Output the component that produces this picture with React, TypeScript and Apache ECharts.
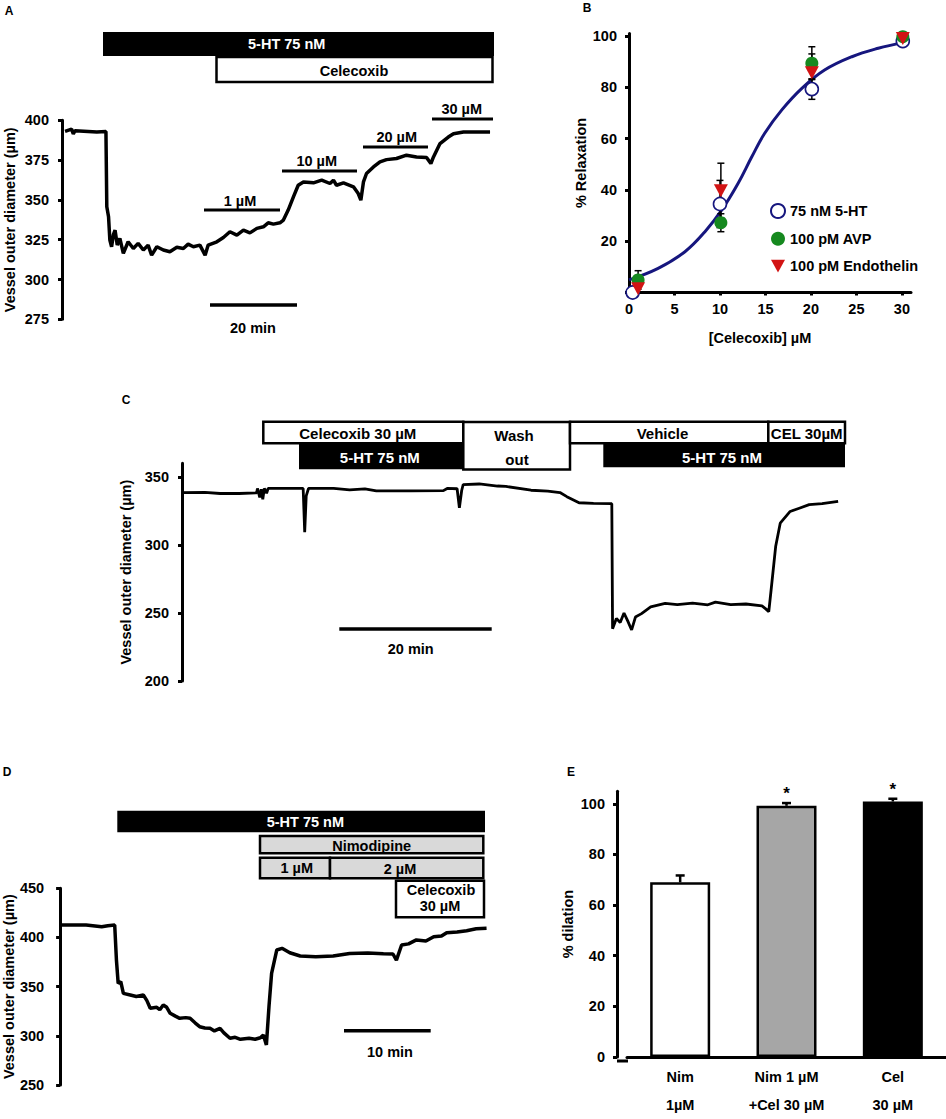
import React, { useEffect, useRef } from 'react';
import * as echarts from 'echarts';

const FONT = '"Liberation Sans", Arial, Helvetica, sans-serif';

// ---------- Panel A: diameter trace (time in min, diameter in µm)
const aTime = [0.7, 2.2, 2.6, 3.0, 8.0, 10.1, 10.3, 10.7, 11.0, 11.4, 11.8, 12.2, 12.7, 13.3, 14.1, 15.2, 16.4, 17.5, 18.7, 19.8, 20.6, 21.8, 23.3, 24.8, 26.4, 27.9, 29.0, 30.2, 31.7, 32.9, 33.6, 35.6, 37.1, 38.6, 40.2, 41.7, 43.2, 44.8, 46.3, 47.4, 48.6, 50.1, 50.9, 52.0, 53.2, 54.3, 55.5, 57.8, 59.7, 61.6, 62.4, 63.1, 64.7, 67.0, 68.1, 68.7, 69.3, 70.0, 71.6, 73.1, 74.6, 76.9, 79.2, 81.5, 83.8, 84.8, 85.4, 86.9, 88.8, 90.0, 92.3, 98.4];
const aDiam = [393.1, 394.5, 391.5, 393.5, 392.7, 393, 345.7, 339.4, 324.8, 320.6, 328, 331, 321.6, 325.8, 316.4, 323.7, 319.5, 322.7, 318.5, 321.6, 315.3, 320.6, 318.5, 317.4, 320.2, 319.5, 322.2, 320.6, 321.6, 315.3, 321.6, 323.7, 326.4, 330, 327.9, 331, 329.3, 332.1, 333.1, 335.6, 334.8, 335.6, 337.3, 343.6, 351.9, 359.2, 361.3, 360.7, 362.4, 360.3, 362.4, 359.2, 360.7, 358.2, 354, 349.8, 361.3, 366.6, 370.7, 373.9, 375.3, 376, 378.1, 377, 376.7, 372.8, 377, 385.4, 389.5, 391.6, 392.7, 392.7];
const aTicks = [275, 300, 325, 350, 375, 400];

// ---------- Panel B: concentration-response
const bConc5HT = [0.4, 10, 20.1, 30.1];
const b5HT = [0, 34.5, 79.3, 98];
const b5HTErr = [0, 9.2, 4, 0];
const bConcAVP = [1.0, 10.1, 20.1, 30.1];
const bAVP = [4.9, 27.2, 89.4, 99.7];
const bAVPErr = [3.6, 3.5, 6.4, 0];
const bConcET = [1.0, 10.1, 20.1, 30.1];
const bET = [1.5, 39.7, 85.7, 99];
const bETErr = [0, 10.7, 7.3, 0];
const bFitX = [0, 3.2, 6.15, 8.35, 10.2, 12.0, 13.5, 14.9, 16.8, 19.0, 21.5, 24.5, 27.4, 30.1];
const bFitY = [4.9, 9.4, 15.9, 23.7, 32.2, 42.6, 52.9, 62, 71.2, 79.6, 86.7, 91.9, 95.2, 97.4];
const bXTicks = [0, 5, 10, 15, 20, 25, 30];
const bYTicks = [20, 40, 60, 80, 100];
const bNames = ['75 nM 5-HT', '100 pM AVP', '100 pM Endothelin'];

// ---------- Panel C: diameter trace
const cTime = [0, 3, 5, 7.5, 9.8, 9.9, 10.2, 10.4, 10.6, 10.8, 11.1, 11.3, 14, 15.9, 16.1, 16.3, 16.6, 19.9, 22, 24, 25.5, 30, 34.3, 34.8, 36.1, 36.4, 36.7, 36.9, 39, 41.4, 42.5, 45.8, 48, 49.6, 50.5, 52.1, 54, 56.4, 56.5, 57.0, 57.5, 58.0, 58.5, 59.0, 59.5, 60.3, 61.5, 63.4, 65, 67, 69, 70, 72, 74, 76.1, 76.6, 77.0, 77.3, 77.9, 78.5, 79.8, 81.0, 82.3, 84, 86.1];
const cDiam = [338.5, 338.6, 337.8, 337.8, 338.3, 341.5, 335, 341, 333.5, 341.5, 338, 341.5, 341.6, 341.5, 309.3, 336, 341.5, 341.5, 340.5, 341.2, 339.8, 339.7, 339.9, 341.5, 341.3, 327.3, 340, 344.4, 344.8, 343.3, 343, 340.2, 339.5, 338.5, 335.5, 331, 330.6, 330.3, 238.4, 246, 243, 250, 244, 237.5, 247, 249.5, 254.4, 257, 256.2, 257.3, 256, 258, 256.2, 256.6, 255.2, 253, 251, 266.7, 298.8, 316, 324.6, 327, 329.6, 330.3, 332];
const cTicks = [200, 250, 300, 350];

// ---------- Panel D: diameter trace
const dTime = [0.2, 3, 4.8, 5.5, 6.3, 6.5, 6.7, 7.0, 7.3, 8.1, 8.8, 9.6, 10.0, 10.4, 11.15, 11.5, 11.9, 12.3, 12.7, 13.3, 13.8, 14.5, 15.0, 15.6, 16.1, 16.7, 17.3, 17.8, 18.45, 18.9, 19.6, 20.2, 20.8, 21.8, 22.5, 23.1, 23.45, 23.8, 24.1, 24.4, 25.0, 25.6, 26.5, 27.7, 29.5, 31.5, 33.4, 35.5, 37.3, 38.4, 38.8, 39.4, 40.2, 41.1, 42.2, 43.1, 44.0, 44.6, 45.8, 46.9, 48.0, 49.2];
const dDiam = [412.7, 412.7, 411, 412, 412.7, 377, 353.4, 355, 343.2, 341.5, 340, 341.5, 336, 328, 329, 326.5, 331.4, 329, 322.9, 320, 317.8, 318.5, 317.8, 313, 309.3, 308, 307.6, 305, 307.6, 303, 297.5, 298.5, 296.5, 297.5, 296.5, 298, 300.8, 290.7, 330, 363.6, 387.3, 389, 384.5, 381.2, 380.5, 381.2, 383.8, 384.2, 383.5, 383.2, 377, 392.4, 393.5, 397.5, 396.5, 400.8, 401.5, 404.9, 405.5, 406.9, 408.8, 409.3];
const dTicks = [250, 300, 350, 400, 450];

// ---------- Panel E: % dilation bars
const eCats = ['Nim\n1µM', 'Nim 1 µM\n+Cel 30 µM', 'Cel\n30 µM'];
const eVals = [69, 99.2, 100.9];
const eErr = [2.7, 1.1, 1.1];
const eStars = ['', '*', '*'];
const eColors = ['#ffffff', '#a6a6a6', '#000000'];
const eTicks = [0, 20, 40, 60, 80, 100];

const zip = (xs: number[], ys: number[]) => xs.map((x, i) => [x, ys[i]]);
const errData = (xs: number[], ys: number[], es: number[]) =>
  xs.map((x, i) => [x, ys[i] - es[i], ys[i] + es[i]]).filter((d, i) => es[i] > 0);

const lbl = { color: '#000', fontWeight: 'bold', fontSize: 14.5, fontFamily: FONT };

function yAxisCfg(gridIndex: number, min: number, max: number, ticks: number[], name: string, nameGap: number, labelMargin: number, extra: any = {}) {
  return {
    type: 'value', gridIndex, min, max,
    name, nameLocation: 'middle', nameGap,
    nameTextStyle: { ...lbl },
    axisLine: { show: true, lineStyle: { color: '#000', width: 3 } },
    axisTick: { show: true, length: 4, lineStyle: { color: '#000', width: 3 }, customValues: ticks },
    axisLabel: { ...lbl, margin: labelMargin, customValues: ticks },
    splitLine: { show: false },
    ...extra,
  };
}
function hiddenX(gridIndex: number, max: number) {
  return { type: 'value', gridIndex, min: 0, max, show: false, splitLine: { show: false } };
}

const rect = (x: number, y: number, w: number, h: number, fill: string, stroke?: string) => ({
  type: 'rect', shape: { x, y, width: w, height: h },
  style: { fill, stroke: stroke || null, lineWidth: stroke ? 2.5 : 0 }, z: 10,
});
const txt = (text: string, x: number, y: number, fill = '#000', size = 14.5) => ({
  type: 'text', x, y, z: 11,
  style: { text, fill, font: `bold ${size}px ${FONT}`, align: 'center', verticalAlign: 'middle' },
});
const ln = (x1: number, y1: number, x2: number, y2: number, w = 3) => ({
  type: 'line', shape: { x1, y1, x2, y2 }, style: { stroke: '#000', lineWidth: w }, z: 10,
});

const graphics = [
  // panel letters
  txt('A', 9, 11, '#000', 12), txt('B', 587, 8, '#000', 12), txt('C', 126, 400, '#000', 12),
  txt('D', 7, 772, '#000', 12), txt('E', 571, 772, '#000', 12),
  // A protocol bars
  rect(103, 32, 391, 24, '#000'), txt('5-HT 75 nM', 286.7, 44, '#fff'),
  rect(216.5, 57, 276, 25, '#fff', '#000'), txt('Celecoxib', 354, 70.5),
  ln(204, 210, 280, 210), txt('1 µM', 240, 200.5),
  ln(282, 171, 357, 171), txt('10 µM', 316.7, 161),
  ln(363, 147, 428, 147), txt('20 µM', 396.7, 136.5),
  ln(432, 119, 493, 119), txt('30 µM', 461.7, 109),
  ln(210, 305, 297, 305, 3.5), txt('20 min', 253, 328),
  // C protocol bars
  rect(299, 443.3, 164.3, 26, '#000'), txt('5-HT 75 nM', 379.8, 457.5, '#fff', 15),
  rect(603.3, 443.3, 241.7, 24, '#000'), txt('5-HT 75 nM', 722, 457.5, '#fff', 15),
  rect(263.3, 421.7, 200, 21.6, '#fff', '#000'), txt('Celecoxib 30 µM', 357.8, 433, '#000', 15),
  rect(463.3, 422, 106.7, 47.5, '#fff', '#000'), txt('Wash', 514, 435, '#000', 15), txt('out', 517, 459.5, '#000', 15),
  rect(570, 421.7, 198.3, 21.6, '#fff', '#000'), txt('Vehicle', 662.5, 433, '#000', 15),
  rect(768.3, 421.7, 76.7, 21.6, '#fff', '#000'), txt('CEL 30µM', 806.7, 433, '#000', 15),
  ln(339.3, 629, 491.7, 629, 3.5), txt('20 min', 410.7, 649),
  // D protocol bars
  rect(117.3, 810.7, 367.7, 21.6, '#000'), txt('5-HT 75 nM', 305.3, 822, '#fff'),
  rect(260, 836, 223.3, 17.3, '#d9d9d9', '#000'), txt('Nimodipine', 371.7, 845.5),
  rect(260, 857.7, 70, 20.6, '#d9d9d9', '#000'), txt('1 µM', 296.7, 867.5),
  rect(330, 857.7, 153.3, 20.6, '#d9d9d9', '#000'), txt('2 µM', 400, 869),
  rect(396, 880.7, 88, 36.6, '#fff', '#000'), txt('Celecoxib', 441, 890), txt('30 µM', 440, 905.5),
  ln(344, 1030.7, 430.7, 1030.7, 3.5), txt('10 min', 390, 1051.5),
  // E x-axis line continuation to the offset y-axis
  ln(617, 1061, 628, 1061, 3),
];

const errRender = (capHalf: number, lw: number) => (params: any, api: any) => {
  const x = api.value(0);
  const lo = api.coord([x, api.value(1)]);
  const hi = api.coord([x, api.value(2)]);
  const st = { stroke: '#000', lineWidth: lw };
  return {
    type: 'group',
    children: [
      { type: 'line', shape: { x1: lo[0], y1: lo[1], x2: hi[0], y2: hi[1] }, style: st },
      { type: 'line', shape: { x1: hi[0] - capHalf, y1: hi[1], x2: hi[0] + capHalf, y2: hi[1] }, style: st },
      { type: 'line', shape: { x1: lo[0] - capHalf, y1: lo[1], x2: lo[0] + capHalf, y2: lo[1] }, style: st },
    ],
  };
};

const eErrRender = (params: any, api: any) => {
  const i = params.dataIndex;
  const base = api.coord([api.value(0), api.value(1)]);
  const top = api.coord([api.value(0), api.value(2)]);
  const st = { stroke: '#000', lineWidth: 2.5 };
  const children: any[] = [
    { type: 'line', shape: { x1: base[0], y1: base[1], x2: top[0], y2: top[1] }, style: st },
    { type: 'line', shape: { x1: top[0] - 4.5, y1: top[1], x2: top[0] + 4.5, y2: top[1] }, style: st },
  ];
  if (eStars[i]) {
    children.push({
      type: 'text', x: top[0], y: top[1] - 1,
      style: { text: eStars[i], fill: '#000', font: `bold 17px ${FONT}`, align: 'center', verticalAlign: 'bottom' },
    });
  }
  return { type: 'group', children };
};

const navy = '#16167e';
const green = '#16891f';
const red = '#d21414';
const downTri = 'path://M0,0 L12,0 L6,11 Z';

const option: any = {
  animation: false,
  backgroundColor: '#fff',
  textStyle: { fontFamily: FONT },
  grid: [
    { left: 62, top: 120.3, width: 435, height: 199 },          // A
    { left: 629, top: 33.4, width: 282, height: 259.1 },         // B
    { left: 182, top: 463.3, width: 663, height: 217.7 },        // C
    { left: 60, top: 888.3, width: 433.5, height: 196.7 },       // D
    { left: 627, top: 791.15, width: 319, height: 269.85 },      // E
  ],
  xAxis: [
    hiddenX(0, 100),
    {
      type: 'value', gridIndex: 1, min: 0, max: 31,
      name: '[Celecoxib] µM', nameLocation: 'middle', nameGap: 38,
      nameTextStyle: { ...lbl, padding: [0, 20, 0, 0] },
      axisLine: { show: true, onZero: false, lineStyle: { color: '#000', width: 3 } },
      axisTick: { show: true, length: 3, lineStyle: { color: '#000', width: 3 }, customValues: bXTicks },
      axisLabel: { ...lbl, margin: 9, customValues: bXTicks },
      splitLine: { show: false },
    },
    hiddenX(2, 87),
    hiddenX(3, 50),
    {
      type: 'category', gridIndex: 4, data: eCats,
      axisLine: { show: true, lineStyle: { color: '#000', width: 3 } },
      axisTick: { show: false },
      axisLabel: { ...lbl, interval: 0, lineHeight: 28, margin: 6 },
    },
  ],
  yAxis: [
    yAxisCfg(0, 275, 400, aTicks, 'Vessel outer diameter (µm)', 45, 13),
    yAxisCfg(1, 0, 101, bYTicks, '% Relaxation', 32, 12, {
      axisTick: { show: true, length: 4, lineStyle: { color: '#000', width: 3 }, customValues: [0, 20, 40, 60, 80, 100] },
    }),
    yAxisCfg(2, 200, 360, cTicks, 'Vessel outer diameter (µm)', 46, 13),
    yAxisCfg(3, 250, 450, dTicks, 'Vessel outer diameter (µm)', 43, 16),
    yAxisCfg(4, 0, 105, eTicks, '% dilation', 42, 12, { offset: 10 }),
  ],
  legend: {
    show: true, orient: 'vertical', left: 770, top: 203, padding: 0,
    itemWidth: 14, itemHeight: 14, itemGap: 12.3,
    textStyle: { ...lbl },
    data: bNames,
  },
  series: [
    { type: 'line', xAxisIndex: 0, yAxisIndex: 0, data: zip(aTime, aDiam), showSymbol: false, lineStyle: { color: '#000', width: 3.5 }, z: 3 },
    // B fit curve
    {
      type: 'line', xAxisIndex: 1, yAxisIndex: 1, data: zip(bFitX, bFitY), showSymbol: false,
      smooth: 0.4, lineStyle: { color: navy, width: 3 }, z: 2,
    },
    // B error bars
    { type: 'custom', xAxisIndex: 1, yAxisIndex: 1, renderItem: errRender(3.5, 1.5), data: errData(bConc5HT, b5HT, b5HTErr), encode: { x: 0, y: [1, 2] }, z: 3 },
    { type: 'custom', xAxisIndex: 1, yAxisIndex: 1, renderItem: errRender(3.5, 1.5), data: errData(bConcAVP, bAVP, bAVPErr), encode: { x: 0, y: [1, 2] }, z: 3 },
    { type: 'custom', xAxisIndex: 1, yAxisIndex: 1, renderItem: errRender(3.5, 1.5), data: errData(bConcET, bET, bETErr), encode: { x: 0, y: [1, 2] }, z: 3 },
    {
      name: bNames[0], type: 'scatter', xAxisIndex: 1, yAxisIndex: 1, data: zip(bConc5HT, b5HT),
      symbol: 'circle', symbolSize: 13, itemStyle: { color: '#fff', borderColor: navy, borderWidth: 1.6, opacity: 1 }, z: 4,
    },
    {
      name: bNames[1], type: 'scatter', xAxisIndex: 1, yAxisIndex: 1, data: zip(bConcAVP, bAVP),
      symbol: 'circle', symbolSize: 13, itemStyle: { color: green, opacity: 1 }, z: 5,
    },
    {
      name: bNames[2], type: 'scatter', xAxisIndex: 1, yAxisIndex: 1, data: zip(bConcET, bET),
      symbol: downTri, symbolSize: [14, 13], itemStyle: { color: red, opacity: 1 }, z: 6,
    },
    { type: 'line', xAxisIndex: 2, yAxisIndex: 2, data: zip(cTime, cDiam), showSymbol: false, lineStyle: { color: '#000', width: 2.8 }, z: 3 },
    { type: 'line', xAxisIndex: 3, yAxisIndex: 3, data: zip(dTime, dDiam), showSymbol: false, lineStyle: { color: '#000', width: 3.5 }, z: 3 },
    {
      type: 'bar', xAxisIndex: 4, yAxisIndex: 4, barWidth: 60,
      data: eVals.map((v, i) => ({ value: v, itemStyle: { color: eColors[i], borderColor: '#000', borderWidth: 2.5 } })),
      z: 2,
    },
    {
      type: 'custom', xAxisIndex: 4, yAxisIndex: 4, renderItem: eErrRender,
      data: eVals.map((v, i) => [i, v, v + eErr[i]]), encode: { x: 0, y: [1, 2] }, z: 3,
    },
  ],
  graphic: graphics,
};

export default function App() {
  const ref = useRef<HTMLDivElement>(null);
  useEffect(() => {
    const chart = echarts.init(ref.current!, null, { renderer: 'svg' });
    chart.setOption(option);
    return () => chart.dispose();
  }, []);
  return (
    <div
      ref={ref}
      style={{ position: 'absolute', left: 0, top: 0, width: 946, height: 1119, background: '#fff' }}
    />
  );
}
